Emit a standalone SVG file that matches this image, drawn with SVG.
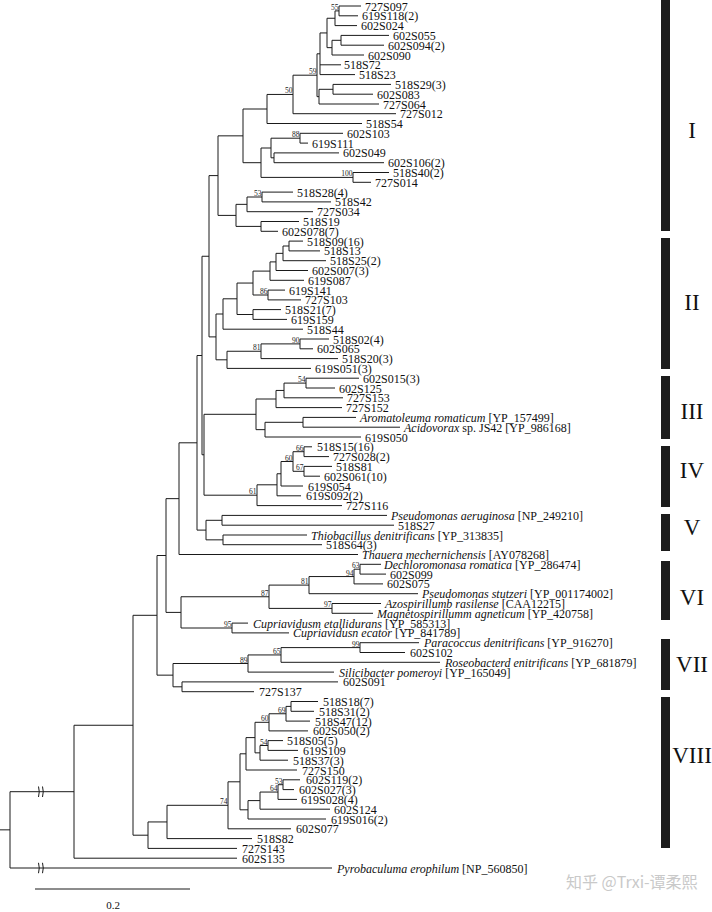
<svg xmlns="http://www.w3.org/2000/svg" width="712" height="912" viewBox="0 0 712 912">
<style>
.br{stroke:#1a1a1a;stroke-width:1;fill:none}
.lb{font-family:"Liberation Serif","Times New Roman",serif;font-size:12px;fill:#111}
.it{font-style:italic}
.bs{font-family:"Liberation Serif","Times New Roman",serif;font-size:7.5px;fill:#222;text-anchor:end}
.bar{fill:#1c1c1c}
.cl{font-family:"Liberation Serif","Times New Roman",serif;font-size:23px;fill:#111;text-anchor:middle}
</style>
<rect width="712" height="912" fill="#fff"/>
<g id="branches" class="br">
<path d="M339,6V15.8M339,6H361M339,15.8H358"/>
<path d="M335,10.9V25.6M335,10.9H339M335,25.6H357"/>
<path d="M341,35.4V45.2M341,35.4H389M341,45.2H384"/>
<path d="M332,40.3V55M332,40.3H341M332,55H364"/>
<path d="M327,18.25V47.65M327,18.25H335M327,47.65H332"/>
<path d="M320,32.95V74.6M320,32.95H327M320,64.8H341M320,74.6H355"/>
<path d="M333,84.4V94.2M333,84.4H391M333,94.2H373"/>
<path d="M319,89.3V104M319,89.3H333M319,104H379"/>
<path d="M317,53.8V96.65M317,53.8H320M317,96.65H319"/>
<path d="M293,75.2V113.7M293,75.2H317M293,113.7H396"/>
<path d="M267,94.45V123.5M267,94.45H293M267,123.5H362"/>
<path d="M300,133.3V143.1M300,133.3H343M300,143.1H308"/>
<path d="M274,152.9V162.7M274,152.9H339M274,162.7H384"/>
<path d="M271,138.2V157.8M271,138.2H300M271,157.8H274"/>
<path d="M353,172.5V182.3M353,172.5H389M353,182.3H371"/>
<path d="M261,148V177.4M261,148H271M261,177.4H353"/>
<path d="M243,109V162.7M243,109H267M243,162.7H261"/>
<path d="M262,192.1V201.9M262,192.1H293M262,201.9H331"/>
<path d="M247,197V211.7M247,197H262M247,211.7H313"/>
<path d="M261,221.5V231.3M261,221.5H299M261,231.3H278"/>
<path d="M236,204.35V226.4M236,204.35H247M236,226.4H261"/>
<path d="M218,135.85V215.4M218,135.85H243M218,215.4H236"/>
<path d="M289,241.1V250.9M289,241.1H303M289,250.9H320"/>
<path d="M283,246V260.7M283,246H289M283,260.7H326"/>
<path d="M276,253.35V270.5M276,253.35H283M276,270.5H308"/>
<path d="M270,261.9V280.3M270,261.9H276M270,280.3H304"/>
<path d="M268,290.1V299.9M268,290.1H285M268,299.9H301"/>
<path d="M253,271.1V295M253,271.1H270M253,295H268"/>
<path d="M253,309.6V319.4M253,309.6H281M253,319.4H287"/>
<path d="M237,283.05V314.5M237,283.05H253M237,314.5H253"/>
<path d="M223,298.8V329.2M223,298.8H237M223,329.2H303"/>
<path d="M300,339V348.8M300,339H329M300,348.8H313"/>
<path d="M261,343.9V358.6M261,343.9H300M261,358.6H338"/>
<path d="M227,351.25V368.4M227,351.25H261M227,368.4H311"/>
<path d="M216,314V359.8M216,314H223M216,359.8H227"/>
<path d="M209,175.6V336.9M209,175.6H218M209,336.9H216"/>
<path d="M306,378.2V388M306,378.2H359M306,388H335"/>
<path d="M284,383.1V397.8M284,383.1H306M284,397.8H343"/>
<path d="M276,390.45V407.6M276,390.45H284M276,407.6H342"/>
<path d="M303,417.4V427.2M303,417.4H356M303,427.2H400"/>
<path d="M265,422.3V437M265,422.3H303M265,437H361"/>
<path d="M256,399V429.65M256,399H276M256,429.65H265"/>
<path d="M304,446.8V456.6M304,446.8H312M304,456.6H329"/>
<path d="M304,466.4V476.2M304,466.4H332M304,476.2H320"/>
<path d="M293,451.7V471.3M293,451.7H304M293,471.3H304"/>
<path d="M281,461.5V486M281,461.5H293M281,486H303"/>
<path d="M277,473.75V495.8M277,473.75H281M277,495.8H301"/>
<path d="M257,484.8V505.6M257,484.8H277M257,505.6H342"/>
<path d="M204,414.3V495.2M204,414.3H256M204,495.2H257"/>
<path d="M202,256.25V454.75M202,256.25H209M202,454.75H204"/>
<path d="M222,515.4V525.2M222,515.4H387M222,525.2H394"/>
<path d="M223,535V544.7M223,535H307M223,544.7H322"/>
<path d="M206,520.3V539.85M206,520.3H222M206,539.85H223"/>
<path d="M197,355.5V530.1M197,355.5H202M197,530.1H206"/>
<path d="M179,442.8V554.5M179,442.8H197M179,554.5H358"/>
<path d="M360,564.3V574.1M360,564.3H381M360,574.1H386"/>
<path d="M354,569.2V583.9M354,569.2H360M354,583.9H383"/>
<path d="M309,576.55V593.7M309,576.55H354M309,593.7H418"/>
<path d="M332,603.5V613.3M332,603.5H381M332,613.3H373"/>
<path d="M269,585.1V608.4M269,585.1H309M269,608.4H332"/>
<path d="M232,623.1V632.9M232,623.1H248M232,632.9H289"/>
<path d="M181,596.75V628M181,596.75H269M181,628H232"/>
<path d="M166,498.65V612.4M166,498.65H179M166,612.4H181"/>
<path d="M360,642.7V652.5M360,642.7H419M360,652.5H405"/>
<path d="M281,647.6V662.3M281,647.6H360M281,662.3H440"/>
<path d="M248,654.95V672.1M248,654.95H281M248,672.1H334"/>
<path d="M182,681.9V691.7M182,681.9H338M182,691.7H254"/>
<path d="M173,663.5V686.8M173,663.5H248M173,686.8H182"/>
<path d="M157,555.5V675.15M157,555.5H166M157,675.15H173"/>
<path d="M291,701.5V711.3M291,701.5H318M291,711.3H314"/>
<path d="M286,706.4V721.1M286,706.4H291M286,721.1H310"/>
<path d="M269,713.75V730.9M269,713.75H286M269,730.9H308"/>
<path d="M268,740.6V750.4M268,740.6H283M268,750.4H298"/>
<path d="M260,745.5V760.2M260,745.5H268M260,760.2H288"/>
<path d="M255,722.3V752.85M255,722.3H269M255,752.85H260"/>
<path d="M246,737.6V770M246,737.6H255M246,770H297"/>
<path d="M283,779.8V789.6M283,779.8H300M283,789.6H294"/>
<path d="M278,784.7V799.4M278,784.7H283M278,799.4H297"/>
<path d="M260,792.05V809.2M260,792.05H278M260,809.2H330"/>
<path d="M248,800.6V819M248,800.6H260M248,819H326"/>
<path d="M240,753.8V809.8M240,753.8H246M240,809.8H248"/>
<path d="M228,781.8V828.8M228,781.8H240M228,828.8H291"/>
<path d="M167,805.3V838.6M167,805.3H228M167,838.6H252"/>
<path d="M148,821.95V848.4M148,821.95H167M148,848.4H237"/>
<path d="M133,615.3V835.2M133,615.3H157M133,835.2H148"/>
<path d="M74,725.25V858.2M74,725.25H133M74,858.2H237"/>
<path d="M10,791.7V868M10,791.7H74M10,868H332M0,829.85H10"/>
<path d="M38.5,786.5Q40,791.7 38.5,797M42.5,786.5Q44,791.7 42.5,797"/>
<path d="M38.5,862.8Q40,868 38.5,873.2M42.5,862.8Q44,868 42.5,873.2"/>
</g>
<g id="bootstrap">
<text class="bs" x="338.5" y="9.9">55</text>
<text class="bs" x="316.5" y="74.2">59</text>
<text class="bs" x="292.5" y="93.4">50</text>
<text class="bs" x="299.5" y="137.2">88</text>
<text class="bs" x="352.5" y="176.4">100</text>
<text class="bs" x="261.5" y="196">53</text>
<text class="bs" x="267.5" y="294">86</text>
<text class="bs" x="299.5" y="342.9">90</text>
<text class="bs" x="260.5" y="350.2">81</text>
<text class="bs" x="305.5" y="382.1">54</text>
<text class="bs" x="303.5" y="450.7">66</text>
<text class="bs" x="292.5" y="460.5">60</text>
<text class="bs" x="303.5" y="470.3">67</text>
<text class="bs" x="256.5" y="494.2">61</text>
<text class="bs" x="359.5" y="568.2">63</text>
<text class="bs" x="353.5" y="575.5">94</text>
<text class="bs" x="308.5" y="584.1">81</text>
<text class="bs" x="268.5" y="595.7">87</text>
<text class="bs" x="331.5" y="607.4">97</text>
<text class="bs" x="231.5" y="627">95</text>
<text class="bs" x="359.5" y="646.6">99</text>
<text class="bs" x="280.5" y="653.9">65</text>
<text class="bs" x="247.5" y="662.5">89</text>
<text class="bs" x="285.5" y="712.7">69</text>
<text class="bs" x="268.5" y="721.3">60</text>
<text class="bs" x="267.5" y="744.5">54</text>
<text class="bs" x="282.5" y="783.7">53</text>
<text class="bs" x="277.5" y="791">64</text>
<text class="bs" x="227.5" y="804.3">74</text>
</g>
<g id="n-727S097"><text class="lb" x="365" y="10.5">727S097</text></g>
<g id="n-619S118"><text class="lb" x="362" y="20.3">619S118(2)</text></g>
<g id="n-602S024"><text class="lb" x="361" y="30.1">602S024</text></g>
<g id="n-602S055"><text class="lb" x="393" y="39.9">602S055</text></g>
<g id="n-602S094"><text class="lb" x="388" y="49.7">602S094(2)</text></g>
<g id="n-602S090"><text class="lb" x="368" y="59.5">602S090</text></g>
<g id="n-518S72"><text class="lb" x="344" y="69.3">518S72</text></g>
<g id="n-518S23"><text class="lb" x="359" y="79.1">518S23</text></g>
<g id="n-518S29"><text class="lb" x="395" y="88.9">518S29(3)</text></g>
<g id="n-602S083"><text class="lb" x="377" y="98.7">602S083</text></g>
<g id="n-727S064"><text class="lb" x="383" y="108.5">727S064</text></g>
<g id="n-727S012"><text class="lb" x="400" y="118.2">727S012</text></g>
<g id="n-518S54"><text class="lb" x="366" y="128">518S54</text></g>
<g id="n-602S103"><text class="lb" x="347" y="137.8">602S103</text></g>
<g id="n-619S111"><text class="lb" x="312" y="147.6">619S111</text></g>
<g id="n-602S049"><text class="lb" x="343" y="157.4">602S049</text></g>
<g id="n-602S106"><text class="lb" x="388" y="167.2">602S106(2)</text></g>
<g id="n-518S40"><text class="lb" x="393" y="177">518S40(2)</text></g>
<g id="n-727S014"><text class="lb" x="375" y="186.8">727S014</text></g>
<g id="n-518S28"><text class="lb" x="297" y="196.6">518S28(4)</text></g>
<g id="n-518S42"><text class="lb" x="335" y="206.4">518S42</text></g>
<g id="n-727S034"><text class="lb" x="317" y="216.2">727S034</text></g>
<g id="n-518S19"><text class="lb" x="303" y="226">518S19</text></g>
<g id="n-602S078"><text class="lb" x="282" y="235.8">602S078(7)</text></g>
<g id="n-518S09"><text class="lb" x="307" y="245.6">518S09(16)</text></g>
<g id="n-518S13"><text class="lb" x="324" y="255.4">518S13</text></g>
<g id="n-518S25"><text class="lb" x="330" y="265.2">518S25(2)</text></g>
<g id="n-602S007"><text class="lb" x="312" y="275">602S007(3)</text></g>
<g id="n-619S087"><text class="lb" x="308" y="284.8">619S087</text></g>
<g id="n-619S141"><text class="lb" x="289" y="294.6">619S141</text></g>
<g id="n-727S103"><text class="lb" x="305" y="304.4">727S103</text></g>
<g id="n-518S21"><text class="lb" x="285" y="314.1">518S21(7)</text></g>
<g id="n-619S159"><text class="lb" x="291" y="323.9">619S159</text></g>
<g id="n-518S44"><text class="lb" x="307" y="333.7">518S44</text></g>
<g id="n-518S02"><text class="lb" x="333" y="343.5">518S02(4)</text></g>
<g id="n-602S065"><text class="lb" x="317" y="353.3">602S065</text></g>
<g id="n-518S20"><text class="lb" x="342" y="363.1">518S20(3)</text></g>
<g id="n-619S051"><text class="lb" x="315" y="372.9">619S051(3)</text></g>
<g id="n-602S015"><text class="lb" x="363" y="382.7">602S015(3)</text></g>
<g id="n-602S125"><text class="lb" x="339" y="392.5">602S125</text></g>
<g id="n-727S153"><text class="lb" x="347" y="402.3">727S153</text></g>
<g id="n-727S152"><text class="lb" x="346" y="412.1">727S152</text></g>
<g id="n-aromatoleuma"><text class="lb" x="360" y="421.9"><tspan class="it">Aromatoleuma romaticum</tspan> [YP_157499]</text></g>
<g id="n-acidovorax"><text class="lb" x="404" y="431.7"><tspan class="it">Acidovorax</tspan> sp. JS42 [YP_986168]</text></g>
<g id="n-619S050"><text class="lb" x="365" y="441.5">619S050</text></g>
<g id="n-518S15"><text class="lb" x="317" y="451.3">518S15(16)</text></g>
<g id="n-727S028"><text class="lb" x="333" y="461.1">727S028(2)</text></g>
<g id="n-518S81"><text class="lb" x="336" y="470.9">518S81</text></g>
<g id="n-602S061"><text class="lb" x="324" y="480.7">602S061(10)</text></g>
<g id="n-619S054"><text class="lb" x="308" y="490.5">619S054</text></g>
<g id="n-619S092"><text class="lb" x="306" y="500.3">619S092(2)</text></g>
<g id="n-727S116"><text class="lb" x="346" y="510.1">727S116</text></g>
<g id="n-p-aeruginosa"><text class="lb" x="391" y="519.9"><tspan class="it">Pseudomonas aeruginosa</tspan> [NP_249210]</text></g>
<g id="n-518S27"><text class="lb" x="398" y="529.7">518S27</text></g>
<g id="n-thiobacillus"><text class="lb" x="311" y="539.5"><tspan class="it">Thiobacillus denitrificans</tspan> [YP_313835]</text></g>
<g id="n-518S64"><text class="lb" x="326" y="549.2">518S64(3)</text></g>
<g id="n-thauera"><text class="lb" x="362" y="559"><tspan class="it">Thauera mechernichensis</tspan> [AY078268]</text></g>
<g id="n-dechloromonas"><text class="lb" x="384" y="568.8"><tspan class="it">Dechloromonasa romatica</tspan> [YP_286474]</text></g>
<g id="n-602S099"><text class="lb" x="390" y="578.6">602S099</text></g>
<g id="n-602S075"><text class="lb" x="387" y="588.4">602S075</text></g>
<g id="n-p-stutzeri"><text class="lb" x="422" y="598.2"><tspan class="it">Pseudomonas stutzeri</tspan> [YP_001174002]</text></g>
<g id="n-azospirillum"><text class="lb" x="385" y="608"><tspan class="it">Azospirillumb rasilense</tspan> [CAA12215]</text></g>
<g id="n-magnetospirillum"><text class="lb" x="377" y="617.8"><tspan class="it">Magnetospirillumm agneticum</tspan> [YP_420758]</text></g>
<g id="n-c-metallidurans"><text class="lb" x="253" y="627.6"><tspan class="it">Cupriavidusm etallidurans</tspan> [YP_585313]</text></g>
<g id="n-c-necator"><text class="lb" x="293" y="637.4"><tspan class="it">Cupriavidusn ecator</tspan> [YP_841789]</text></g>
<g id="n-paracoccus"><text class="lb" x="424" y="647.2"><tspan class="it">Paracoccus denitrificans</tspan> [YP_916270]</text></g>
<g id="n-602S102"><text class="lb" x="410" y="657">602S102</text></g>
<g id="n-roseobacter"><text class="lb" x="445" y="666.8"><tspan class="it">Roseobacterd enitrificans</tspan> [YP_681879]</text></g>
<g id="n-silicibacter"><text class="lb" x="339" y="676.6"><tspan class="it">Silicibacter pomeroyi</tspan> [YP_165049]</text></g>
<g id="n-602S091"><text class="lb" x="343" y="686.4">602S091</text></g>
<g id="n-727S137"><text class="lb" x="259" y="696.2">727S137</text></g>
<g id="n-518S18"><text class="lb" x="323" y="706">518S18(7)</text></g>
<g id="n-518S31"><text class="lb" x="319" y="715.8">518S31(2)</text></g>
<g id="n-518S47"><text class="lb" x="315" y="725.6">518S47(12)</text></g>
<g id="n-602S050"><text class="lb" x="313" y="735.4">602S050(2)</text></g>
<g id="n-518S05"><text class="lb" x="287" y="745.1">518S05(5)</text></g>
<g id="n-619S109"><text class="lb" x="303" y="754.9">619S109</text></g>
<g id="n-518S37"><text class="lb" x="293" y="764.7">518S37(3)</text></g>
<g id="n-727S150"><text class="lb" x="302" y="774.5">727S150</text></g>
<g id="n-602S119"><text class="lb" x="306" y="784.3">602S119(2)</text></g>
<g id="n-602S027"><text class="lb" x="299" y="794.1">602S027(3)</text></g>
<g id="n-619S028"><text class="lb" x="301" y="803.9">619S028(4)</text></g>
<g id="n-602S124"><text class="lb" x="334" y="813.7">602S124</text></g>
<g id="n-619S016"><text class="lb" x="331" y="823.5">619S016(2)</text></g>
<g id="n-602S077"><text class="lb" x="296" y="833.3">602S077</text></g>
<g id="n-518S82"><text class="lb" x="257" y="843.1">518S82</text></g>
<g id="n-727S143"><text class="lb" x="242" y="852.9">727S143</text></g>
<g id="n-602S135"><text class="lb" x="242" y="862.7">602S135</text></g>
<g id="n-pyrobaculum"><text class="lb" x="337" y="872.5"><tspan class="it">Pyrobaculuma erophilum</tspan> [NP_560850]</text></g>
<g id="clade-I"><rect class="bar" x="661" y="0" width="9" height="231"/><text class="cl" x="692" y="138">I</text></g>
<g id="clade-II"><rect class="bar" x="661" y="238" width="9" height="131"/><text class="cl" x="692" y="310">II</text></g>
<g id="clade-III"><rect class="bar" x="661" y="376" width="9" height="63"/><text class="cl" x="692" y="419">III</text></g>
<g id="clade-IV"><rect class="bar" x="661" y="446" width="9" height="61"/><text class="cl" x="692" y="478">IV</text></g>
<g id="clade-V"><rect class="bar" x="661" y="514" width="9" height="37"/><text class="cl" x="692" y="535">V</text></g>
<g id="clade-VI"><rect class="bar" x="661" y="561" width="9" height="59"/><text class="cl" x="692" y="605">VI</text></g>
<g id="clade-VII"><rect class="bar" x="661" y="639" width="9" height="51"/><text class="cl" x="692" y="672">VII</text></g>
<g id="clade-VIII"><rect class="bar" x="661" y="697" width="9" height="151"/><text class="cl" x="692" y="763">VIII</text></g>
<g id="scale-bar"><path class="br" d="M35,889H190"/><text class="lb" x="113" y="909" style="font-size:11px" text-anchor="middle">0.2</text></g>
<g id="watermark"><text x="566" y="888" style="font-family:'Noto Sans CJK SC','Noto Sans',sans-serif;font-size:16px;fill:#c9c9c9">知乎 @Trxi-谭柔熙</text></g>
</svg>
